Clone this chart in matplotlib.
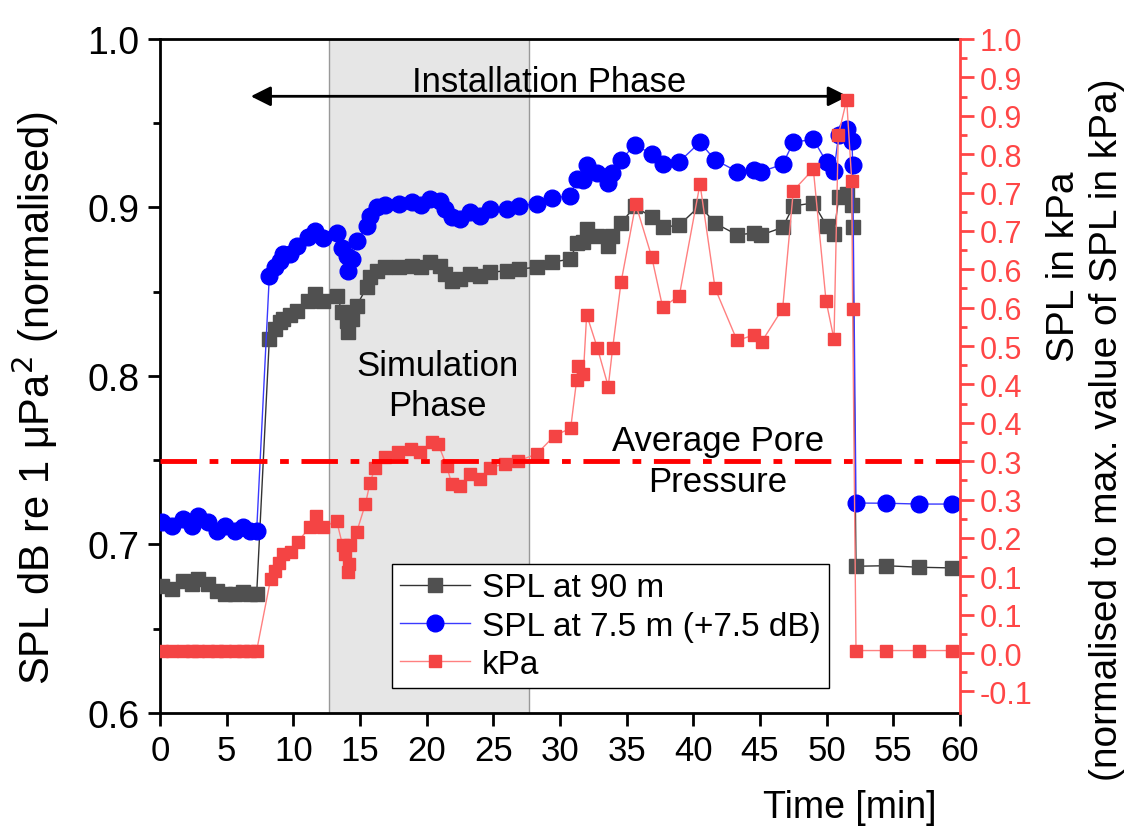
import numpy as np
import matplotlib.pyplot as plt
from matplotlib.ticker import MultipleLocator, FixedLocator

plt.rcParams['font.family'] = ['Liberation Sans', 'DejaVu Sans']

# time [min] shared by both SPL series
t_spl = [0.13, 0.88, 1.75, 2.38, 2.87, 3.62, 4.25, 4.88, 5.63, 6.25, 6.75, 7.25,
         8.2, 8.6, 9.0, 9.25, 9.75, 10.25, 11.1, 11.6, 12.25, 13.3, 13.65, 14.0, 14.12, 14.38,
         14.75, 15.5, 15.75, 16.25, 16.9, 17.9, 18.9, 19.6, 20.25, 21.0, 21.4, 21.9, 22.5,
         23.25, 24.0, 24.75, 26.0, 26.9, 28.25, 29.4,
         30.75, 31.3, 31.7, 32.05, 32.8, 33.6, 33.9, 34.6, 35.6, 36.9, 37.7, 38.95, 40.5,
         41.6, 43.3, 44.55, 45.1, 46.7, 47.5, 49.0, 50.0, 50.55, 50.9, 51.55, 51.9, 51.95,
         52.2, 54.45, 56.95, 59.4]

spl_90 = [0.6755, 0.6736, 0.6785, 0.6766, 0.6795, 0.6766, 0.6726, 0.6706, 0.6706, 0.6716, 0.6706, 0.6706,
          0.8220, 0.8279, 0.8319, 0.8338, 0.8362, 0.8388, 0.8447, 0.8487, 0.8447, 0.8477, 0.8378,
          0.8328, 0.8259, 0.8338, 0.8417, 0.8526, 0.8586, 0.8625, 0.8645, 0.8645, 0.8655, 0.8645,
          0.8675, 0.8655, 0.8605, 0.8566, 0.8576, 0.8605, 0.8595, 0.8615, 0.8625, 0.8635, 0.8645,
          0.8675,
          0.8694, 0.8789, 0.8793, 0.8872, 0.8829, 0.8773, 0.8829, 0.8908, 0.9007, 0.8942, 0.8882,
          0.8896, 0.9011, 0.8908, 0.8837, 0.8849, 0.8837, 0.8882, 0.9009, 0.9027, 0.8892, 0.8843,
          0.9060, 0.9080, 0.9015, 0.8882, 0.6871, 0.6874, 0.6865, 0.6861]

spl_75 = [0.7132, 0.7108, 0.7151, 0.7111, 0.7171, 0.7132, 0.7082, 0.7111, 0.7082, 0.7102, 0.7082, 0.7082,
          0.8595, 0.8645, 0.8684, 0.8724, 0.8724, 0.8770, 0.8823, 0.8862, 0.8817, 0.8849, 0.8758,
          0.8714, 0.8625, 0.8694, 0.8803, 0.8892, 0.8951, 0.9001, 0.9017, 0.9021, 0.9034, 0.9015,
          0.9050, 0.9040, 0.8991, 0.8942, 0.8932, 0.8975, 0.8951, 0.8991, 0.8991, 0.9011, 0.9021,
          0.9055,
          0.9070, 0.9169, 0.9165, 0.9252, 0.9205, 0.9145, 0.9205, 0.9284, 0.9371, 0.9318, 0.9258,
          0.9272, 0.9387, 0.9284, 0.9213, 0.9224, 0.9213, 0.9256, 0.9387, 0.9405, 0.9268, 0.9219,
          0.9430, 0.9463, 0.9395, 0.9255, 0.7246, 0.7245, 0.7240, 0.7240]

t_kpa = [0.13, 0.88, 1.75, 2.38, 2.87, 3.62, 4.25, 4.88, 5.63, 6.25, 6.75, 7.25,
         8.30, 8.63, 8.93, 9.25, 9.81, 10.33, 11.23, 11.70, 12.25, 13.25, 13.69, 13.88, 14.09,
         14.18, 14.25, 14.75, 15.41, 15.75, 16.13, 16.88, 17.87, 18.81, 19.5, 20.38, 20.87, 21.5,
         21.88, 22.5, 23.25, 24.0, 24.75, 25.88, 26.87, 28.25, 29.59, 30.80, 31.25, 31.37, 31.75,
         32.0, 32.8, 33.62, 33.95, 34.58, 35.68, 36.88, 37.7, 38.95, 40.5, 41.63, 43.28, 44.55,
         45.13, 46.7, 47.5, 49.0, 49.95, 50.55, 50.87, 51.5, 51.88, 51.95,
         52.2, 54.45, 56.95, 59.4]

kpa = [0.004] * 12 + [
    0.121, 0.134, 0.147, 0.161, 0.164, 0.181, 0.205, 0.223, 0.205, 0.215, 0.176, 0.161, 0.132,
    0.145, 0.176, 0.197, 0.243, 0.277, 0.302, 0.320, 0.327, 0.332, 0.327, 0.343, 0.340, 0.305,
    0.275, 0.272, 0.292, 0.283, 0.302, 0.308, 0.313, 0.324, 0.354, 0.366, 0.445, 0.468, 0.454,
    0.551, 0.497, 0.434, 0.497, 0.604, 0.731, 0.645, 0.563, 0.582, 0.764, 0.594, 0.509, 0.518,
    0.507, 0.561, 0.753, 0.788, 0.574, 0.511, 0.843, 0.901, 0.769, 0.560,
    0.004, 0.004, 0.004, 0.004]

avg_pore = 0.3125
sim_phase = (12.7, 27.7)
install_phase = (6.6, 51.8)

right_ticks = np.arange(-1, 17) / 16
right_labels = ['-0.1', '0.0', '0.1', '0.1', '0.2', '0.3', '0.3', '0.4', '0.4', '0.5',
                '0.6', '0.6', '0.7', '0.7', '0.8', '0.9', '0.9', '1.0']

red = '#ff4646'

fig = plt.figure(figsize=(11.29, 8.37), dpi=100)
ax = fig.add_axes([160/1129, 1-714/837, 800/1129, 674/837])
ax2 = ax.twinx()

ax.axvspan(sim_phase[0], sim_phase[1], facecolor='#e6e6e6', edgecolor='#999999', lw=1, zorder=0)

ax.plot(t_spl, spl_90, color='#333333', lw=1, marker='s', ms=9.5,
        mfc='#505050', mec='#505050', label='SPL at 90 m', zorder=3)
ax.plot(t_spl, spl_75, color='#3a3aff', lw=1, marker='o', ms=12,
        mfc='#0000ff', mec='#0000ff', label='SPL at 7.5 m (+7.5 dB)', zorder=4)

ax2.plot(t_kpa, kpa, color='#ff8080', lw=1, marker='s', ms=9,
         mfc='#f44444', mec='#f44444', label='kPa', zorder=3)
ax2.axhline(avg_pore, color='red', lw=3.5, linestyle=(0, (7.5, 2.6, 1.8, 2.6)), zorder=5)

ax.annotate('', xy=(install_phase[0], 0.966), xytext=(install_phase[1], 0.966),
            arrowprops=dict(arrowstyle='<|-|>', color='black', lw=2, mutation_scale=30))
ax.text(sum(install_phase) / 2, 0.975, 'Installation Phase', ha='center', va='center', fontsize=25)
ax.text(20.8, 0.7945, 'Simulation\nPhase', ha='center', va='center', fontsize=25, linespacing=1.25)
ax2.text(41.85, avg_pore, 'Average Pore\nPressure', ha='center', va='center', fontsize=25,
         linespacing=1.3, zorder=6)

ax.set_xlim(0, 60)
ax.set_ylim(0.6, 1.0)
ax2.set_ylim(-0.0977, 1.0)

ax.xaxis.set_major_locator(MultipleLocator(5))
ax.yaxis.set_major_locator(MultipleLocator(0.1))
ax.yaxis.set_minor_locator(MultipleLocator(0.05))
ax.yaxis.set_major_formatter(plt.FormatStrFormatter('%.1f'))
ax.tick_params(axis='y', which='major', direction='out', length=9, width=2, labelsize=27, pad=6)
ax.tick_params(axis='y', which='minor', direction='out', length=5, width=2)
ax.tick_params(axis='x', which='major', direction='out', length=9, width=2, labelsize=25, pad=6)

ax2.yaxis.set_major_locator(FixedLocator(right_ticks))
ax2.set_yticklabels(right_labels)
ax2.yaxis.set_minor_locator(FixedLocator(right_ticks[:-1] + 1/32))
ax2.tick_params(axis='y', which='major', direction='out', length=10, width=2,
                colors=red, labelsize=22, pad=4)
ax2.tick_params(axis='y', which='minor', direction='out', length=5, width=2, colors=red)

for s in ['left', 'bottom', 'top']:
    ax.spines[s].set_linewidth(2)
ax.spines['right'].set_visible(False)
for s in ['left', 'bottom', 'top']:
    ax2.spines[s].set_visible(False)
ax2.spines['right'].set_color(red)
ax2.spines['right'].set_linewidth(2)

h1, l1 = ax.get_legend_handles_labels()
h2, l2 = ax2.get_legend_handles_labels()
leg = ax2.legend(h1 + h2, l1 + l2, loc='upper left', bbox_to_anchor=(0.29, 0.221),
                 borderaxespad=0, fontsize=24, frameon=True, fancybox=False, edgecolor='black',
                 framealpha=1, handlelength=2.1, borderpad=0.25, labelspacing=0.22,
                 handletextpad=0.35)
leg.get_frame().set_linewidth(1)

fig.text(35/1129, 1-398/837, 'SPL dB re 1 \u03bcPa$^2$ (normalised)', rotation=90,
         ha='center', va='center', fontsize=30)
fig.text(1064/1129, 1-267/837, 'SPL in kPa', rotation=90, ha='center', va='center', fontsize=28)
fig.text(1107/1129, 1-430/837, '(normalised to max. value of SPL in kPa)', rotation=90,
         ha='center', va='center', fontsize=28)
fig.text(850/1129, 1-808/837, 'Time [min]', ha='center', va='center', fontsize=27)

fig.savefig('out.png', dpi=100)
